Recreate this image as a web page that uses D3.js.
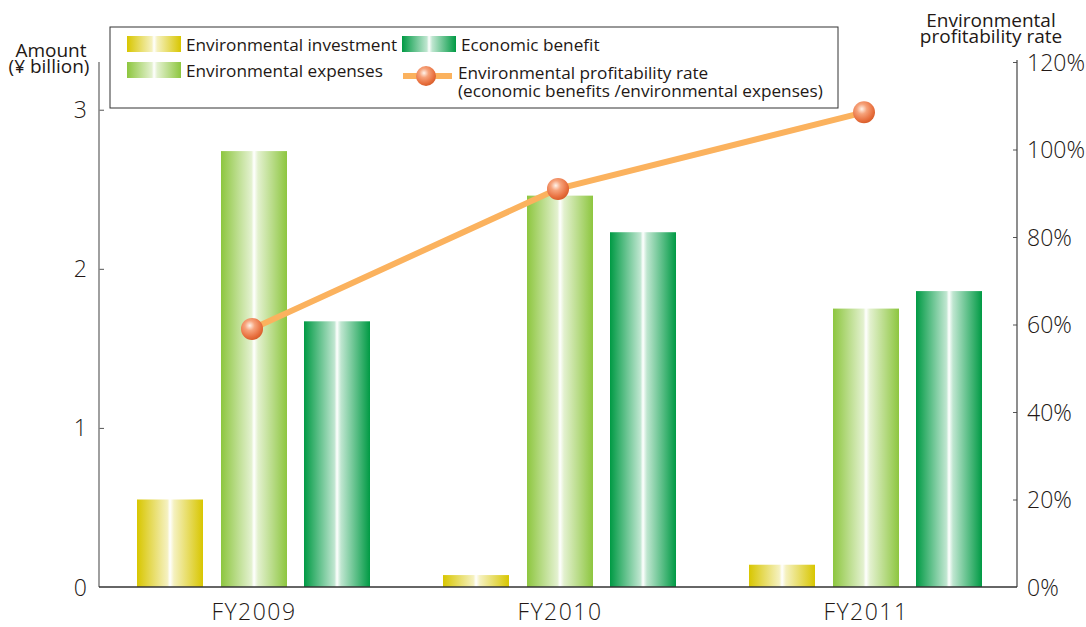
<!DOCTYPE html>
<html><head><meta charset="utf-8">
<script src="https://cdn.jsdelivr.net/npm/d3@7"></script>
<style>body{margin:0;background:#fff}svg{display:block}text{font-family:"Open Sans","Noto Sans",sans-serif;fill:#231815}</style>
</head><body>
<svg id="c" width="1086" height="627"></svg>
<script>
const categories = ["FY2009","FY2010","FY2011"];
const investment = [0.55, 0.075, 0.14];
const expenses = [2.74, 2.46, 1.75];
const benefit = [1.67, 2.23, 1.86];
const rate = [59, 91, 108.5];
const leftTicks = [0,1,2,3];
const rightTicks = [0,20,40,60,80,100,120];

const svg = d3.select("#c");
const x0 = 99, x1 = 1017, yTop = 62, yBot = 587;

const x = d3.scaleBand().domain(categories).range([x0,x1]).padding(0);
const yL = d3.scaleLinear().domain([0,3.3]).range([yBot,yTop]);
const yR = d3.scaleLinear().domain([0,120]).range([yBot,yTop]);

const defs = svg.append("defs");
function barGrad(id, c){
  const g = defs.append("linearGradient").attr("id",id).attr("x1","0").attr("x2","1").attr("y1","0").attr("y2","0");
  const light = d3.interpolateRgb(c,"#ffffff")(0.75);
  [[0,c],[0.46,light],[0.5,"#ffffff"],[0.56,light],[1,c]].forEach(([o,col])=>g.append("stop").attr("offset",o).attr("stop-color",col));
}
barGrad("gInv","#d8c600");
barGrad("gExp","#8dc63f");
barGrad("gBen","#009a44");
const rg = defs.append("radialGradient").attr("id","gDot").attr("cx","0.4").attr("cy","0.35").attr("r","0.65");
[[0,"#fff3ea"],[0.35,"#f6a27a"],[0.8,"#e8703f"],[1,"#d95f2c"]].forEach(([o,c])=>rg.append("stop").attr("offset",o).attr("stop-color",c));

const series = [
  {vals:investment, fill:"url(#gInv)", off:38},
  {vals:expenses, fill:"url(#gExp)", off:122},
  {vals:benefit, fill:"url(#gBen)", off:205}
];
const bw = 66;
series.forEach(s=>{
  svg.append("g").selectAll("rect").data(categories).join("rect")
    .attr("x",(d)=>x(d)+s.off)
    .attr("y",(d,i)=>yL(s.vals[i]))
    .attr("width",bw)
    .attr("height",(d,i)=>yBot-yL(s.vals[i]))
    .attr("fill",s.fill);
});

// axes
const axL = svg.append("g").attr("transform",`translate(${x0},0)`)
  .call(d3.axisRight(yL).tickValues(leftTicks).tickSize(5).tickFormat(d3.format("d")));
axL.select(".domain").remove();
axL.selectAll(".tick line").attr("stroke","#555");
axL.selectAll(".tick text").attr("x",-12).attr("text-anchor","end").attr("font-size",23).attr("font-weight",300).attr("dy","0.35em");
axL.selectAll(".tick").filter(d=>d===0).select("line").remove();

const axR = svg.append("g").attr("transform",`translate(${x1},0)`)
  .call(d3.axisLeft(yR).tickValues(rightTicks).tickSize(4).tickFormat(d=>d+"%"));
axR.select(".domain").remove();
axR.selectAll(".tick line").attr("stroke","#555");
axR.selectAll(".tick text").attr("x",10).attr("text-anchor","start").attr("font-size",23).attr("font-weight",300).attr("dy","0.35em");
axR.selectAll(".tick").filter(d=>d===0).select("line").remove();

svg.append("line").attr("x1",x0).attr("x2",x0).attr("y1",yTop).attr("y2",yBot).attr("stroke","#888").attr("stroke-width",1.6);
svg.append("line").attr("x1",x1).attr("x2",x1).attr("y1",yTop-2).attr("y2",yBot).attr("stroke","#444").attr("stroke-width",1.2);
svg.append("line").attr("x1",x0).attr("x2",x1).attr("y1",yBot).attr("y2",yBot).attr("stroke","#333").attr("stroke-width",1.5);

// category labels
svg.append("g").selectAll("text").data(categories).join("text")
  .attr("x",d=>x(d)+x.bandwidth()/2+2).attr("y",620).attr("text-anchor","middle").attr("font-size",23).attr("font-weight",300).attr("letter-spacing",1.5).text(d=>d);

// line
const line = d3.line().x((d,i)=>x(categories[i])+x.bandwidth()/2).y(d=>yR(d));
svg.append("path").datum(rate).attr("d",line).attr("fill","none").attr("stroke","#fbb25e").attr("stroke-width",6);
svg.append("g").selectAll("circle").data(rate).join("circle")
  .attr("cx",(d,i)=>x(categories[i])+x.bandwidth()/2).attr("cy",d=>yR(d)).attr("r",11).attr("fill","url(#gDot)");

// axis titles
svg.append("text").attr("x",51).attr("y",57).attr("text-anchor","middle").attr("font-size",19).text("Amount");
svg.append("text").attr("x",49).attr("y",73).attr("text-anchor","middle").attr("font-size",19).text("(¥ billion)");
svg.append("text").attr("x",991).attr("y",27).attr("text-anchor","middle").attr("font-size",19).text("Environmental");
svg.append("text").attr("x",991).attr("y",43).attr("text-anchor","middle").attr("font-size",19).text("profitability rate");

// legend
const lg = svg.append("g");
lg.append("rect").attr("x",110).attr("y",27).attr("width",728).attr("height",81).attr("fill","#fff").attr("stroke","#333").attr("stroke-width",1);
const legItems = [
  {fill:"url(#gInv)", x:127, y:36, label:"Environmental investment"},
  {fill:"url(#gBen)", x:402, y:36, label:"Economic benefit"},
  {fill:"url(#gExp)", x:127, y:62, label:"Environmental expenses"}
];
legItems.forEach(it=>{
  lg.append("rect").attr("x",it.x).attr("y",it.y).attr("width",54).attr("height",16).attr("fill",it.fill);
  lg.append("text").attr("x",it.x+59).attr("y",it.y+15).attr("font-size",17.2).text(it.label);
});
lg.append("line").attr("x1",403).attr("x2",452).attr("y1",76).attr("y2",76).attr("stroke","#fbb25e").attr("stroke-width",6);
lg.append("circle").attr("cx",426).attr("cy",76).attr("r",10).attr("fill","url(#gDot)");
lg.append("text").attr("x",458).attr("y",79).attr("font-size",17.2).text("Environmental profitability rate");
lg.append("text").attr("x",458).attr("y",97).attr("font-size",17.2).text("(economic benefits /environmental expenses)");
</script>
</body></html>
